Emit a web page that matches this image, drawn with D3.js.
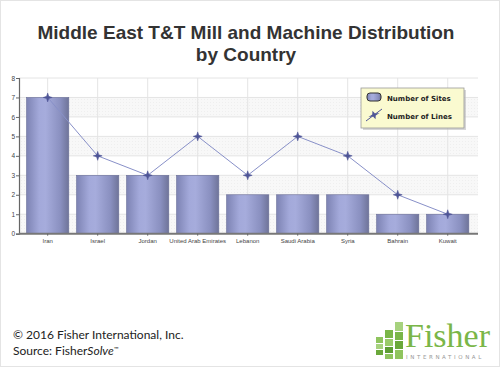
<!DOCTYPE html>
<html><head><meta charset="utf-8">
<script src="https://cdn.jsdelivr.net/npm/d3@7"></script>
<style>body{margin:0;background:#fff}svg{display:block}</style>
</head><body>
<svg id="c" width="500" height="367"></svg>
<script>
const categories = ["Iran","Israel","Jordan","United Arab Emirates","Lebanon","Saudi Arabia","Syria","Bahrain","Kuwait"];
const sites = [7,3,3,3,2,2,2,1,1];
const lines = [7,4,3,5,3,5,4,2,1];
const yTicks = [0,1,2,3,4,5,6,7,8];
const titleLines = ["Middle East T&T Mill and Machine Distribution","by Country"];
const legendLabels = ["Number of Sites","Number of Lines"];
const footerLines = ["© 2016 Fisher International, Inc."];

(function(){
const svg = d3.select("#c");
const defs = svg.append("defs");
const g1 = defs.append("linearGradient").attr("id","barg").attr("x1","0").attr("x2","1").attr("y1","0").attr("y2","0");
[[0,"#7d83b3"],[0.3,"#a3a9da"],[0.45,"#a6acdc"],[0.8,"#8a90c0"],[1,"#6f7499"]].forEach(([o,c])=>g1.append("stop").attr("offset",o).attr("stop-color",c));
const pat = defs.append("pattern").attr("id","dots").attr("width",3).attr("height",3).attr("patternUnits","userSpaceOnUse");
pat.append("rect").attr("width",3).attr("height",3).attr("fill","#f8f8f8");
pat.append("rect").attr("width",1).attr("height",1).attr("fill","#efefef");

svg.append("rect").attr("x",0.5).attr("y",0.5).attr("width",499).attr("height",366).attr("fill","#fff").attr("stroke","#e4e4e4");

svg.append("g").selectAll("text").data(titleLines).join("text")
  .attr("x",246).attr("y",(d,i)=>39+i*22).attr("text-anchor","middle")
  .attr("font-family","Liberation Sans, Arial, sans-serif").attr("font-weight","bold")
  .attr("font-size",19).attr("fill","#333").text(d=>d);

const pL=19, pR=478, pT=78, pB=233.7;
const x = d3.scaleBand().domain(categories).range([22.7,472.7]).paddingInner(0.155).paddingOuter(0.077);
const y = d3.scaleLinear().domain([0,8]).range([pB,pT]);

const plot = svg.append("g");
plot.append("rect").attr("x",pL).attr("y",pT).attr("width",pR-pL).attr("height",pB-pT).attr("fill","#fff");
plot.selectAll("rect.band").data([0,2,4,6]).join("rect").attr("class","band")
  .attr("x",pL).attr("width",pR-pL).attr("y",d=>y(d+1)).attr("height",d=>y(d)-y(d+1)).attr("fill","url(#dots)");
plot.selectAll("line.hg").data(yTicks).join("line").attr("class","hg")
  .attr("x1",pL).attr("x2",pR).attr("y1",d=>y(d)).attr("y2",d=>y(d)).attr("stroke","#e4e4e4");
plot.selectAll("line.vg").data(categories).join("line").attr("class","vg")
  .attr("x1",d=>x(d)+x.bandwidth()/2).attr("x2",d=>x(d)+x.bandwidth()/2).attr("y1",pT).attr("y2",pB).attr("stroke","#e4e4e4");

plot.selectAll("rect.bar").data(sites).join("rect").attr("class","bar")
  .attr("x",(d,i)=>x(categories[i])).attr("width",x.bandwidth())
  .attr("y",d=>y(d)).attr("height",d=>pB-y(d))
  .attr("fill","url(#barg)").attr("stroke","#6a6f98").attr("stroke-width",0.6);

const yAxis = svg.append("g").attr("transform",`translate(${pL},0)`)
  .call(d3.axisLeft(y).tickValues(yTicks).tickSize(3).tickFormat(d3.format("d")));
yAxis.select(".domain").attr("stroke","#666").attr("stroke-width",1.2);
yAxis.selectAll(".tick line").attr("stroke","#666");
yAxis.selectAll("text").attr("font-family","Liberation Sans, Arial, sans-serif").attr("font-size",6.5).attr("fill","#444").attr("x",-4);

const xAxis = svg.append("g").attr("transform",`translate(0,${pB})`)
  .call(d3.axisBottom(x).tickSize(2).tickSizeOuter(0));
xAxis.select(".domain").attr("d",`M${pL},0H${pR}`).attr("stroke","#777").attr("stroke-width",2);
xAxis.selectAll(".tick line").attr("stroke","#666");
xAxis.selectAll("text").attr("font-family","Liberation Sans, Arial, sans-serif").attr("font-size",6).attr("fill","#444").attr("y",5);

const lineGen = d3.line().x((d,i)=>x(categories[i])+x.bandwidth()/2).y(d=>y(d));
svg.append("path").datum(lines).attr("d",lineGen).attr("fill","none").attr("stroke","#8890c8").attr("stroke-width",1);
const star = "M0,-4.5L1.1,-1.1L4.5,0L1.1,1.1L0,4.5L-1.1,1.1L-4.5,0L-1.1,-1.1Z";
svg.selectAll("path.mk").data(lines).join("path").attr("class","mk")
  .attr("transform",(d,i)=>`translate(${x(categories[i])+x.bandwidth()/2},${y(d)})`)
  .attr("d",star).attr("fill","#4e5596").attr("stroke","#4e5596").attr("stroke-width",0.5);

const lg = svg.append("g").attr("transform","translate(361,88)");
lg.append("rect").attr("x",2).attr("y",2).attr("width",103).attr("height",40).attr("fill","#bbb").attr("opacity",0.6);
lg.append("rect").attr("width",103).attr("height",40).attr("fill","#fafad0").attr("stroke","#999").attr("stroke-width",0.8);
lg.append("rect").attr("x",6).attr("y",5).attr("width",14).attr("height",8).attr("rx",3).attr("fill","url(#barg)").attr("stroke","#333").attr("stroke-width",1);
lg.append("path").attr("transform","translate(13,27) rotate(-20) scale(1.3,1)").attr("d",star).attr("fill","#4e5596");
lg.append("line").attr("x1",5).attr("x2",21).attr("y1",33).attr("y2",21).attr("stroke","#4e5596").attr("stroke-width",1);
lg.selectAll("text").data(legendLabels).join("text").attr("x",26).attr("y",(d,i)=>12.5+i*18)
  .attr("font-family","DejaVu Sans, sans-serif").attr("font-weight","bold").attr("font-size",7).attr("fill","#222").text(d=>d);

const ft = svg.append("g").attr("font-family","Lato, Open Sans, sans-serif").attr("font-size",12).attr("fill","#222");
ft.append("text").attr("x",13).attr("y",339).text(footerLines[0]);
const t2 = ft.append("text").attr("x",13).attr("y",355);
t2.append("tspan").text("Source: Fisher");
t2.append("tspan").attr("font-style","italic").text("Solve");
t2.append("tspan").attr("font-size",6).attr("dy",-4).text("™");

const logo = svg.append("g");
const blocks = [
  [376,337,7,6,"#8fc45e"],[376,344,7,5,"#a7d27e"],[376,350,7,5,"#6aa83a"],
  [385,330,8,8,"#7ab648"],[385,339,8,7,"#9acb6a"],[385,347,8,6,"#5e9e34"],[385,354,8,5,"#8fc45e"],
  [395,322,8,9,"#a7d27e"],[395,332,8,8,"#7ab648"],[395,341,8,8,"#6aa83a"],[395,350,8,9,"#8fc45e"]
];
logo.selectAll("rect").data(blocks).join("rect").attr("x",d=>d[0]).attr("y",d=>d[1]).attr("width",d=>d[2]).attr("height",d=>d[3]).attr("fill",d=>d[4]);
logo.append("text").attr("x",405).attr("y",347).attr("font-family","Liberation Serif, serif").attr("font-size",34).attr("fill","#7ab648").text("Fisher");
logo.append("text").attr("x",406).attr("y",359).attr("font-family","DejaVu Sans, sans-serif").attr("font-size",5.5).attr("letter-spacing",2.6).attr("fill","#999").text("INTERNATIONAL");
})();
</script>
</body></html>
